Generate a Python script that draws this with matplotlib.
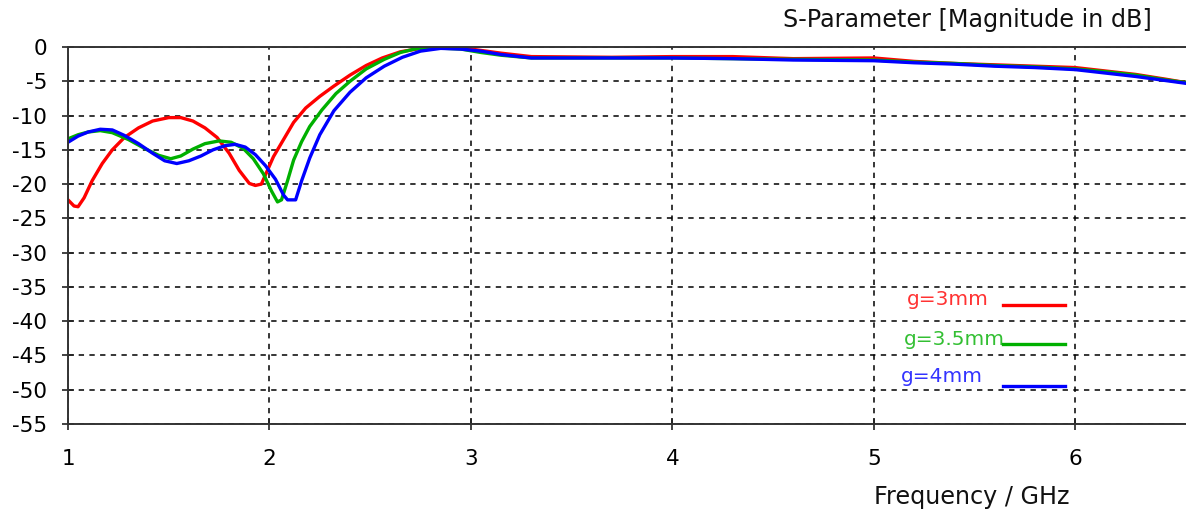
import matplotlib.pyplot as plt
import numpy as np

plt.rcParams['axes.unicode_minus'] = False

# (GHz, dB)
f_g3 = [1.00, 1.03, 1.05, 1.08, 1.12, 1.17, 1.22, 1.28, 1.35, 1.42, 1.50, 1.56, 1.62, 1.68,
        1.74, 1.80, 1.85, 1.90, 1.93, 1.96, 1.99, 2.02, 2.07, 2.12, 2.18, 2.25, 2.32, 2.40,
        2.48, 2.56, 2.65, 2.75, 2.85, 3.00, 3.15, 3.30, 3.70, 4.00, 4.30, 4.60, 5.00, 5.20,
        5.40, 5.60, 5.80, 6.00, 6.15, 6.30, 6.45, 6.55]
s_g3 = [-22.3, -23.2, -23.3, -22.0, -19.5, -17.0, -15.0, -13.2, -11.8, -10.8, -10.3, -10.3,
        -10.8, -11.8, -13.2, -15.5, -18.0, -19.9, -20.2, -20.0, -18.0, -16.0, -13.5, -11.0,
        -8.9, -7.2, -5.7, -4.1, -2.7, -1.6, -0.7, -0.2, -0.1, -0.3, -0.9, -1.4, -1.5, -1.4,
        -1.4, -1.7, -1.6, -2.1, -2.4, -2.6, -2.8, -3.0, -3.5, -4.0, -4.7, -5.2]

f_g35 = [1.00, 1.05, 1.10, 1.16, 1.22, 1.30, 1.38, 1.45, 1.51, 1.56, 1.62, 1.68, 1.75, 1.81,
         1.87, 1.92, 1.97, 2.01, 2.04, 2.06, 2.09, 2.12, 2.16, 2.20, 2.26, 2.33, 2.40, 2.48,
         2.57, 2.65, 2.72, 2.80, 2.95, 3.05, 3.15, 3.30, 3.70, 4.00, 4.30, 4.60, 5.00, 5.20,
         5.40, 5.60, 5.80, 6.00, 6.15, 6.30, 6.45, 6.55]
s_g35 = [-13.4, -12.8, -12.4, -12.2, -12.5, -13.5, -14.8, -15.8, -16.3, -15.9, -14.9, -14.1,
         -13.7, -13.9, -14.8, -16.3, -18.5, -21.0, -22.6, -22.3, -19.5, -16.5, -13.8, -11.6,
         -9.2, -6.8, -5.0, -3.2, -1.8, -0.8, -0.3, -0.1, -0.3, -0.8, -1.2, -1.6, -1.6, -1.6,
         -1.7, -1.8, -1.9, -2.2, -2.4, -2.7, -2.9, -3.2, -3.6, -4.1, -4.8, -5.2]

f_g4 = [1.00, 1.05, 1.10, 1.16, 1.22, 1.28, 1.35, 1.42, 1.48, 1.54, 1.60, 1.66, 1.72, 1.78,
        1.83, 1.88, 1.93, 1.98, 2.03, 2.07, 2.09, 2.13, 2.16, 2.20, 2.25, 2.32, 2.40, 2.48,
        2.57, 2.66, 2.75, 2.85, 2.95, 3.05, 3.15, 3.30, 3.70, 4.00, 4.30, 4.60, 5.00, 5.20,
        5.40, 5.60, 5.80, 6.00, 6.15, 6.30, 6.45, 6.55]
s_g4 = [-13.9, -13.0, -12.4, -12.0, -12.1, -12.9, -14.1, -15.5, -16.6, -17.0, -16.6, -15.9,
        -15.0, -14.4, -14.2, -14.6, -15.7, -17.3, -19.3, -21.6, -22.3, -22.3, -19.5, -16.2,
        -12.8, -9.3, -6.6, -4.5, -2.8, -1.5, -0.6, -0.2, -0.3, -0.6, -1.1, -1.6, -1.6, -1.6,
        -1.7, -1.9, -2.0, -2.3, -2.5, -2.8, -3.0, -3.3, -3.8, -4.3, -4.9, -5.3]

labels = ['g=3mm', 'g=3.5mm', 'g=4mm']
colors = ['#ff0000', '#00b000', '#0000ff']

fig = plt.figure(figsize=(11.86, 5.13), dpi=100)
ax = fig.add_axes([68/1186, 1-424/513, 1-68/1186, 377/513])

for f, s, c in zip([f_g3, f_g35, f_g4], [s_g3, s_g35, s_g4], colors):
    ax.plot(f, s, color=c, lw=2.4, solid_joinstyle='round')

ax.set_xlim(1, 6.55)
ax.set_ylim(-55, 0)
ax.set_xticks([1, 2, 3, 4, 5, 6])
ax.set_yticks(np.arange(-55, 1, 5))
ax.grid(True, color='black', linestyle=(0, (3.5, 3.5)), lw=1.1)
ax.tick_params(direction='inout', length=8, width=1.2, labelsize=15.5, colors='#222222',
               labelcolor='black')
ax.tick_params(axis='x', pad=14)
ax.tick_params(axis='y', pad=11)
for side in ['left', 'bottom', 'top']:
    ax.spines[side].set_color('#333333')
    ax.spines[side].set_linewidth(1.4)
ax.spines['right'].set_visible(False)

# legend drawn like the reference: coloured text + short line
leg_y = [-37.6, -43.3, -49.5]
text_y = [-36.9, -42.6, -48.1]
text_x = [5.57, 5.65, 5.54]
for lab, c, y, ty, tx in zip(labels, colors, leg_y, text_y, text_x):
    ax.plot([5.64, 5.95], [y, y], color=c, lw=2.4)
    ax.text(tx, ty, lab, color=c, fontsize=14.5, ha='right', va='center', alpha=0.8)

fig.text(1152/1186, 1-20/513, 'S-Parameter [Magnitude in dB]', ha='right', va='center',
         fontsize=17.2, color='#111111')
fig.text(1070/1186, 1-497/513, 'Frequency / GHz', ha='right', va='center',
         fontsize=17.2, color='#111111')

fig.savefig('out.png', dpi=100)
